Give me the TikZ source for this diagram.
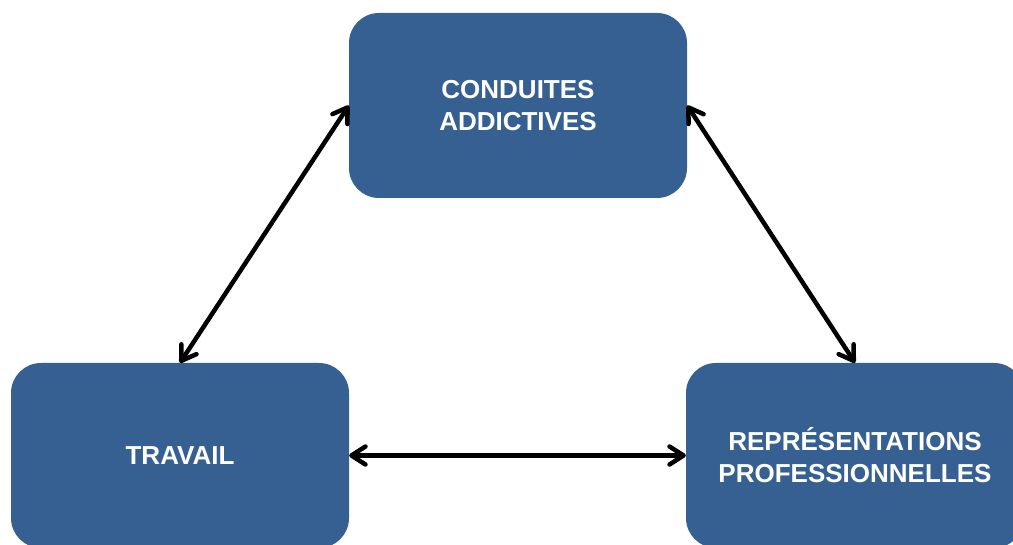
\documentclass[tikz,border=0pt]{standalone}
\usepackage{fontspec}
\setmainfont{Liberation Sans}
\usetikzlibrary{arrows.meta}
\definecolor{boxblue}{RGB}{54,96,146}
\tikzset{
    bloc/.style={
        fill=boxblue,
        rounded corners=30pt,
        minimum width=338pt,
        minimum height=185pt,
        inner sep=0pt,
        align=center,
        text=white,
        font=\fontsize{26}{32}\selectfont\bfseries
    },
    lien/.style={
        line width=4.5pt,
        {Straight Barb[length=14pt,width=18pt,round]}-{Straight Barb[length=14pt,width=18pt,round]}
    }
}

\begin{document}
\begin{tikzpicture}[x=1pt,y=-1pt]
		\useasboundingbox (0,0) rectangle (1013,545);

		% Boxes
		\node[bloc] (conduites) at (518,105.5) {CONDUITES\\ADDICTIVES};
		\node[bloc] (travail) at (180,455.5) {TRAVAIL};
		\node[bloc] (representations) at (855,455.5) {REPRÉSENTATIONS\\PROFESSIONNELLES};

		% Links
		\draw[lien] (conduites.west) -- (travail.north);
		\draw[lien] (conduites.east) -- (representations.north);
		\draw[lien] (travail.east) -- (representations.west);
	\end{tikzpicture}
\end{document}
